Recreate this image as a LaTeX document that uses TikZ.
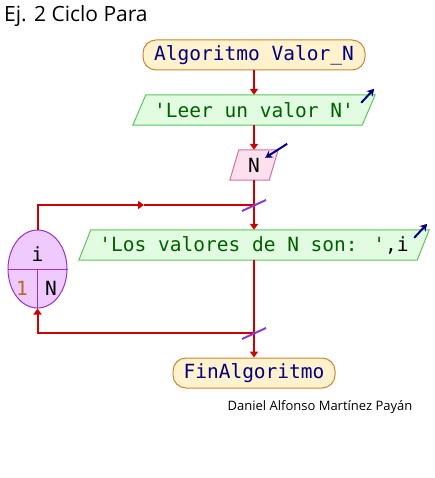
\documentclass[tikz,border=0pt]{standalone}
\usepackage{fontspec}
\setmainfont{Open Sans}
\newfontfamily\codefont{DejaVu Sans Mono}
\usetikzlibrary{arrows.meta,shapes.geometric,backgrounds}

\definecolor{flowred}{HTML}{CC0000}
\definecolor{termfill}{HTML}{FFF2CC}
\definecolor{termdraw}{HTML}{C8872E}
\definecolor{navytext}{HTML}{000080}
\definecolor{iofill}{HTML}{E2FCE2}
\definecolor{iodraw}{HTML}{5CC45C}
\definecolor{iotext}{HTML}{006000}
\definecolor{infill}{HTML}{FCE0EE}
\definecolor{indraw}{HTML}{D070A0}
\definecolor{loopfill}{HTML}{EECAFF}
\definecolor{loopdraw}{HTML}{9933CC}
\definecolor{slashcol}{HTML}{8A3CCC}
\definecolor{startnum}{HTML}{B8642C}

% parallelogram frame around a rectangular node: name, slant, style
\newcommand\ioframe[3]{%
  \draw[#3] ([xshift=#2]#1.north west) -- (#1.north east)
    -- ([xshift=-#2]#1.south east) -- (#1.south west) -- cycle;}

\tikzset{
  code/.style={font=\codefont\fontsize{19.5}{22}\selectfont},
  terminal/.style={code, draw=termdraw, fill=termfill, line width=1pt,
    rounded corners=13pt, minimum height=30pt, inner sep=0pt, text=navytext},
  iobox/.style={code, minimum height=30pt, inner sep=0pt, text=iotext},
  ioshape/.style={draw=iodraw, fill=iofill, line width=1pt},
  inshape/.style={draw=indraw, fill=infill, line width=1pt},
  flow/.style={draw=flowred, line width=2pt},
  flowarrow/.style={flow, -{Triangle[width=8pt,length=6pt]}},
  slash/.style={draw=slashcol, line width=2pt},
  pointer/.style={draw=navytext, line width=2pt, -{Stealth[width=8pt,length=7pt]}},
  loopbox/.style={ellipse, draw=loopdraw, fill=loopfill, line width=1pt,
    minimum width=59pt, minimum height=78pt, inner sep=0pt},
}

\begin{document}
\begin{tikzpicture}[x=1pt, y=-1pt]
\useasboundingbox (0,0) rectangle (434,478);

% titles
\node[anchor=west, inner sep=0pt, font=\fontsize{21}{25}\selectfont] (title) at (4,16) {Ej. 2 Ciclo Para};
\node[inner sep=0pt, font=\fontsize{13}{16}\selectfont] (author) at (320,407) {Daniel Alfonso Martínez Payán};

% flowchart blocks
\node[terminal, minimum width=222pt] (start) at (254,55) {Algoritmo Valor\_N};
\node[iobox, minimum width=242pt] (leer) at (254,110) {'Leer un valor N'};
\node[iobox, minimum width=48pt, text=black] (readn) at (254,165) {N};
\node[iobox, minimum width=350pt] (los) at (254,245) {'Los valores de N son: '\textcolor{black}{,i}};
\node[terminal, minimum width=162pt] (fin) at (254,373) {FinAlgoritmo};

% loop counter
\node[loopbox] (loop) at (37.5,269) {};
\draw[draw=loopdraw, line width=1pt] (loop.west) -- (loop.east);
\draw[draw=loopdraw, line width=1pt] (loop.center) -- (loop.south);
\node[code] (var) at (37.5,254) {i};
\node[code, text=startnum] (from) at (22,288) {1};
\node[code] (to) at (51,288) {N};

\begin{scope}[on background layer]
  \ioframe{leer}{13}{ioshape}
  \ioframe{readn}{9}{inshape}
  \ioframe{los}{12}{ioshape}
\end{scope}

% junction points of the loop
\coordinate (j1) at (254,205);
\coordinate (j2) at (254,333);
\coordinate (mid) at (144,205);

% connectors
\draw[flowarrow] (start) -- (leer);
\draw[flowarrow] (leer) -- (readn);
\draw[flow] (readn) -- (j1);
\draw[flowarrow] (j1) -- (los.north);
\draw[flowarrow] (loop.north) |- (mid);
\draw[flow] (mid) -- (j1);
\draw[flow] (los) -- (j2);
\draw[flowarrow] (j2) -- (fin.north);
\draw[flowarrow] (j2) -| (loop.south);

% loop markers
\draw[slash] ([shift={(-12,6)}]j1) -- ([shift={(12,-5)}]j1);
\draw[slash] ([shift={(-12,6)}]j2) -- ([shift={(12,-5)}]j2);

% input/output pointers
\draw[pointer] ([shift={(-14,8)}]leer.north east) -- ([shift={(-1,-6)}]leer.north east);
\draw[pointer] ([shift={(9,-6)}]readn.north east) -- ([shift={(-13,8)}]readn.north east);
\draw[pointer] ([shift={(-15,8)}]los.north east) -- ([shift={(-2,-6)}]los.north east);
\end{tikzpicture}
\end{document}
